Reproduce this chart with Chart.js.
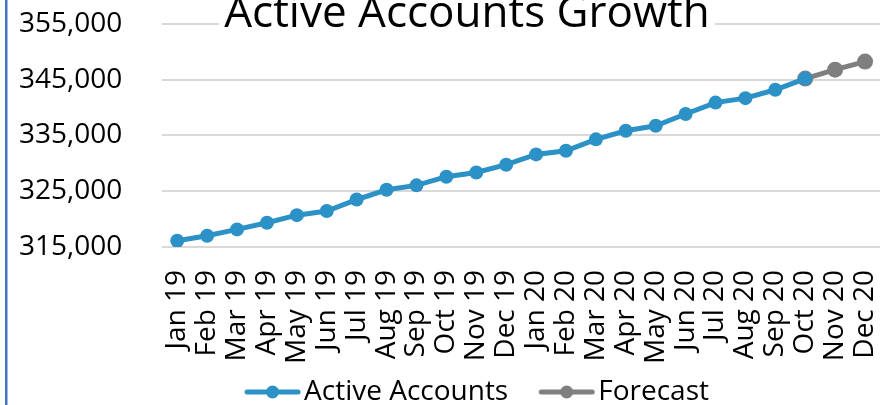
<!DOCTYPE html>
<html>
<head>
<meta charset="utf-8">
<script src="https://cdn.jsdelivr.net/npm/chart.js@4.4.1/dist/chart.umd.min.js"></script>
<style>
    body { margin: 0; background: #ffffff; }
    #wrap { position: relative; width: 891px; height: 405px; }
</style>
</head>
<body>
<div id="wrap"><canvas id="growth"></canvas></div>
<script>

// DATOS

let months = ['Jan 19', 'Feb 19', 'Mar 19', 'Apr 19', 'May 19', 'Jun 19', 'Jul 19', 'Aug 19', 'Sep 19', 'Oct 19', 'Nov 19', 'Dec 19',
              'Jan 20', 'Feb 20', 'Mar 20', 'Apr 20', 'May 20', 'Jun 20', 'Jul 20', 'Aug 20', 'Sep 20', 'Oct 20', 'Nov 20', 'Dec 20'];

let activeAccounts = [316100, 317000, 318150, 319350, 320700, 321450, 323500, 325250, 326050, 327600, 328350, 329750,
                      331600, 332250, 334300, 335850, 336750, 338850, 340900, 341700, 343200, 345200, null, null];

let forecast = [null, null, null, null, null, null, null, null, null, null, null, null,
                null, null, null, null, null, null, null, null, null, 345200, 346800, 348250];

let yTicks = [315000, 325000, 335000, 345000, 355000];

let chartTitle = 'Active Accounts Growth';

let blue = '#2C91C6';
let grey = '#7F7F7F';
let font = "'Open Sans', sans-serif";

// MARCADOR DE LA LEYENDA (LINEA + PUNTO)
// el lienzo es mas ancho a la izquierda para que el marcador quede corrido

function makeMarker(color){
    let c = document.createElement('canvas');
    c.width = 84;
    c.height = 16;
    let g = c.getContext('2d');
    g.strokeStyle = color;
    g.lineWidth = 5;
    g.lineCap = 'round';
    g.beginPath();
    g.moveTo(30, 8);
    g.lineTo(81, 8);
    g.stroke();
    g.fillStyle = color;
    g.beginPath();
    g.arc(55.5, 8, 6.5, 0, Math.PI * 2);
    g.fill();
    return c;
}

let markers = [makeMarker(blue), makeMarker(grey)];

// TITULO, BORDE Y POSICION DE LA LEYENDA

let decorations = {
    id: 'decorations',
    afterLayout: function(chart){
        chart.legend.left += 20;
        chart.legend.right += 20;
    },
    afterDraw: function(chart){
        let g = chart.ctx;
        g.save();
        g.font = "44px " + font;
        g.textAlign = 'center';
        g.textBaseline = 'alphabetic';
        let w = g.measureText(chartTitle).width;
        let cx = 467;
        g.fillStyle = '#ffffff';
        g.fillRect(cx - w / 2 - 5, 0, w + 10, 29);
        g.fillStyle = '#000000';
        g.fillText(chartTitle, cx, 27);
        g.fillStyle = '#4472C4';
        g.fillRect(5, 0, 2.5, chart.height);
        g.restore();
    }
};

// GRAFICO

var ctx = document.getElementById('growth');

var growth = new Chart(ctx, {
    type: 'line',
    data: {
        labels: months,
        datasets: [{
            label: 'Active Accounts',
            data: activeAccounts,
            borderColor: blue,
            backgroundColor: blue,
            borderWidth: 5,
            pointRadius: 7,
            pointBorderWidth: 0,
            pointBackgroundColor: blue,
            pointHoverRadius: 7
        }, {
            label: 'Forecast',
            data: forecast,
            borderColor: grey,
            backgroundColor: grey,
            borderWidth: 5,
            pointRadius: 8,
            pointBorderWidth: 0,
            pointBackgroundColor: grey,
            pointHoverRadius: 8
        }]
    },
    options: {
        responsive: true,
        maintainAspectRatio: false,
        animation: false,
        layout: {
            padding: { top: 24, left: 17, right: 11, bottom: -11 }
        },
        plugins: {
            title: { display: false },
            tooltip: { enabled: false },
            legend: {
                position: 'bottom',
                labels: {
                    color: '#000000',
                    font: { family: font, size: 28 },
                    usePointStyle: true,
                    pointStyleWidth: 62,
                    padding: 14,
                    generateLabels: function(chart){
                        let items = Chart.defaults.plugins.legend.labels.generateLabels(chart);
                        items.forEach(function(it, i){ it.pointStyle = markers[i]; });
                        return items;
                    }
                }
            }
        },
        scales: {
            x: {
                offset: true,
                grid: { display: false, drawOnChartArea: false, drawTicks: true, tickLength: 23, tickColor: 'rgba(0,0,0,0)' },
                border: { display: false },
                ticks: {
                    color: '#000000',
                    font: { family: font, size: 28, lineHeight: 0.9 },
                    minRotation: 90,
                    maxRotation: 90,
                    autoSkip: false,
                    padding: 0
                }
            },
            y: {
                min: yTicks[0],
                max: yTicks[yTicks.length - 1],
                afterBuildTicks: function(axis){
                    axis.ticks = yTicks.map(function(v){ return { value: v }; });
                },
                grid: { color: '#D9D9D9', lineWidth: 2, drawTicks: true, tickLength: 38, tickColor: 'rgba(0,0,0,0)' },
                border: { display: false },
                ticks: {
                    color: '#000000',
                    font: { family: font, size: 28 },
                    padding: 2,
                    callback: function(v){ return v.toLocaleString('en-US'); }
                }
            }
        }
    },
    plugins: [decorations]
});

</script>
</body>
</html>
